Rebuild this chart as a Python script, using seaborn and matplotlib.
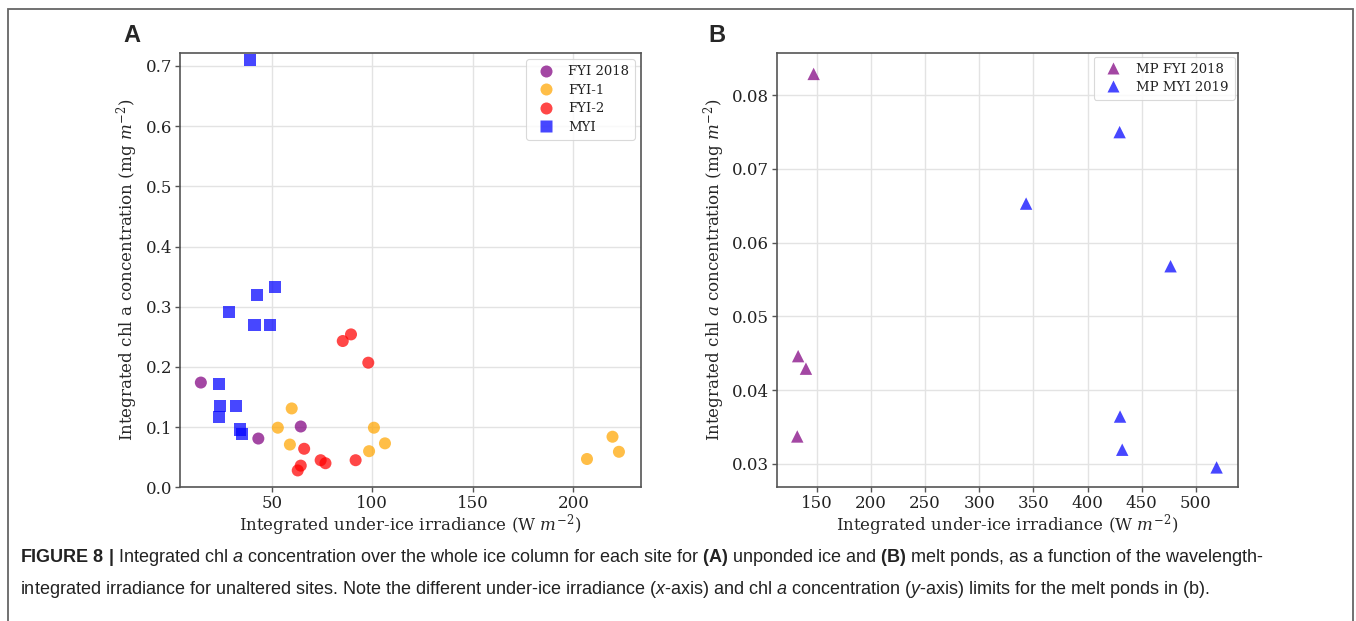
import matplotlib
matplotlib.use("Agg")
import matplotlib.pyplot as plt
import numpy as np
import pandas as pd
import seaborn as sns
from matplotlib.patches import Rectangle

# ---- Panel A: unponded ice (irradiance in W m-2, chl a in mg m-2) ----
fyi2018_irr = [14.7, 64.4, 43.3]
fyi2018_chl = [0.174, 0.101, 0.081]

fyi1_irr = [59.9, 53.0, 100.8, 59.0, 106.3, 98.4, 219.5, 222.7, 206.8]
fyi1_chl = [0.131, 0.099, 0.099, 0.071, 0.073, 0.060, 0.084, 0.059, 0.047]

fyi2_irr = [89.4, 85.3, 98.0, 66.1, 74.3, 76.7, 91.7, 64.4, 62.9]
fyi2_chl = [0.254, 0.243, 0.207, 0.064, 0.045, 0.040, 0.045, 0.036, 0.028]

myi_irr = [39.2, 51.5, 42.7, 28.5, 41.4, 48.9, 23.8, 24.2, 32.2, 23.5, 34.1, 35.2]
myi_chl = [0.710, 0.332, 0.319, 0.291, 0.270, 0.270, 0.171, 0.135, 0.135,
           0.117, 0.096, 0.088]

# ---- Panel B: melt ponds ----
mp_fyi_irr = [147.2, 132.9, 140.1, 132.1]
mp_fyi_chl = [0.0829, 0.0446, 0.0429, 0.0337]

mp_myi_irr = [429.6, 343.3, 476.6, 430.0, 432.0, 519.1]
mp_myi_chl = [0.0750, 0.0653, 0.0568, 0.0364, 0.0319, 0.0295]

site_names_a = ["FYI 2018", "FYI-1", "FYI-2", "MYI"]
site_names_b = ["MP FYI 2018", "MP MYI 2019"]

df_a = pd.concat([
    pd.DataFrame({"irr": fyi2018_irr, "chl": fyi2018_chl, "site": "FYI 2018"}),
    pd.DataFrame({"irr": fyi1_irr, "chl": fyi1_chl, "site": "FYI-1"}),
    pd.DataFrame({"irr": fyi2_irr, "chl": fyi2_chl, "site": "FYI-2"}),
    pd.DataFrame({"irr": myi_irr, "chl": myi_chl, "site": "MYI"}),
], ignore_index=True)

df_b = pd.concat([
    pd.DataFrame({"irr": mp_fyi_irr, "chl": mp_fyi_chl, "site": "MP FYI 2018"}),
    pd.DataFrame({"irr": mp_myi_irr, "chl": mp_myi_chl, "site": "MP MYI 2019"}),
], ignore_index=True)

palette_a = {"FYI 2018": "purple", "FYI-1": "orange", "FYI-2": "red", "MYI": "blue"}
markers_a = {"FYI 2018": "o", "FYI-1": "o", "FYI-2": "o", "MYI": "s"}
palette_b = {"MP FYI 2018": "purple", "MP MYI 2019": "blue"}
markers_b = {"MP FYI 2018": "^", "MP MYI 2019": "^"}

sns.set_theme(style="whitegrid")
plt.rcParams["font.family"] = ["DejaVu Serif"]
plt.rcParams["mathtext.fontset"] = "dejavuserif"
# fonts used by the caption's mathtext pieces (math_fontfamily="custom")
plt.rcParams["mathtext.rm"] = "Liberation Sans"
plt.rcParams["mathtext.it"] = "Liberation Sans:italic"
plt.rcParams["mathtext.bf"] = "Liberation Sans:bold"

SPINE = "#555555"
GRID = "#e3e3e3"
TICK_FS = 12
LABEL_FS = 12

fig = plt.figure(figsize=(13.56, 6.21), dpi=100)
ax_a = fig.add_axes([0.1327, 0.2153, 0.3399, 0.6989])
ax_b = fig.add_axes([0.5727, 0.2153, 0.3404, 0.6989])

sns.scatterplot(data=df_a, x="irr", y="chl", hue="site", style="site",
                hue_order=site_names_a, style_order=site_names_a,
                palette=palette_a, markers=markers_a, s=75, alpha=0.72,
                edgecolor="none", ax=ax_a)
sns.scatterplot(data=df_b, x="irr", y="chl", hue="site", style="site",
                hue_order=site_names_b, style_order=site_names_b,
                palette=palette_b, markers=markers_b, s=80, alpha=0.72,
                edgecolor="none", ax=ax_b)

ax_a.set_xlim(4.3, 233.6)
ax_a.set_ylim(0.0, 0.721)
ax_a.set_xticks([50, 100, 150, 200])
ax_a.set_yticks(np.arange(0, 0.71, 0.1))
ax_a.set_yticklabels([f"{v:.1f}" for v in np.arange(0, 0.71, 0.1)])

ax_b.set_xlim(113, 539)
ax_b.set_ylim(0.0268, 0.0857)
ax_b.set_xticks(np.arange(150, 501, 50))
ax_b.set_yticks(np.arange(0.03, 0.0801, 0.01))
ax_b.set_yticklabels([f"{v:.2f}" for v in np.arange(0.03, 0.0801, 0.01)])

ax_a.set_ylabel("Integrated chl a concentration (mg $m^{-2}$)", fontsize=LABEL_FS)
ax_b.set_ylabel("Integrated chl $a$ concentration (mg $m^{-2}$)", fontsize=LABEL_FS)
ax_a.yaxis.set_label_coords(-0.087, 0.5)
ax_b.yaxis.set_label_coords(-0.108, 0.5)

for ax in (ax_a, ax_b):
    ax.set_xlabel("Integrated under-ice irradiance (W $m^{-2}$)", fontsize=LABEL_FS,
                  labelpad=0)
    ax.set_facecolor("white")
    ax.grid(True, color=GRID, linewidth=1.0)
    for sp in ax.spines.values():
        sp.set_color(SPINE)
        sp.set_linewidth(1.2)
    ax.tick_params(axis="both", which="major", labelsize=TICK_FS, length=3.5,
                   width=1.0, color=SPINE, pad=2, labelcolor="#222222",
                   bottom=True, left=True)

leg_a = ax_a.legend(loc="upper right", fontsize=9.5, frameon=True, framealpha=0.8,
                    borderpad=0.45, handletextpad=0.7, labelspacing=0.42,
                    borderaxespad=0.45)
leg_b = ax_b.legend(loc="upper right", fontsize=9.5, frameon=True, framealpha=0.8,
                    borderpad=0.45, handletextpad=0.8, labelspacing=0.42,
                    borderaxespad=0.25)
for leg in (leg_a, leg_b):
    leg.get_frame().set_edgecolor("#d0d0d0")
    leg.get_frame().set_linewidth(0.8)
    for t in leg.get_texts():
        t.set_color("#222222")

# Panel letters
fig.text(132 / 1356, 1 - 36 / 621, "A", fontsize=17, fontweight="bold",
         family=["Liberation Sans", "DejaVu Sans"], ha="center", va="center")
fig.text(717 / 1356, 1 - 36 / 621, "B", fontsize=17, fontweight="bold",
         family=["Liberation Sans", "DejaVu Sans"], ha="center", va="center")

# Outer frame around figure and caption
fig.patches.append(Rectangle((8 / 1356, -0.05), (1353 - 8) / 1356, 1.05 - 9 / 621,
                             transform=fig.transFigure, fill=False,
                             edgecolor="#666666", linewidth=1.3))

cap_font = ["Liberation Sans", "DejaVu Sans"]
fig.text(20 / 1356, 1 - 558 / 621,
         r"$\bf{FIGURE\ 8\ |}$ Integrated chl $a$ concentration over the whole ice column "
         r"for each site for $\bf{(A)}$ unponded ice and $\bf{(B)}$ melt ponds, as a function "
         r"of the wavelength-",
         fontsize=13, family=cap_font, math_fontfamily="custom",
         ha="left", va="center", color="#222222")
fig.text(20 / 1356, 1 - 589 / 621,
         r"integrated irradiance for unaltered sites. Note the different under-ice irradiance "
         r"($x$-axis) and chl $a$ concentration ($y$-axis) limits for the melt "
         r"ponds in (b).",
         fontsize=13, family=cap_font, math_fontfamily="custom",
         ha="left", va="center", color="#222222")

fig.savefig("out.png", dpi=100, facecolor="white")
